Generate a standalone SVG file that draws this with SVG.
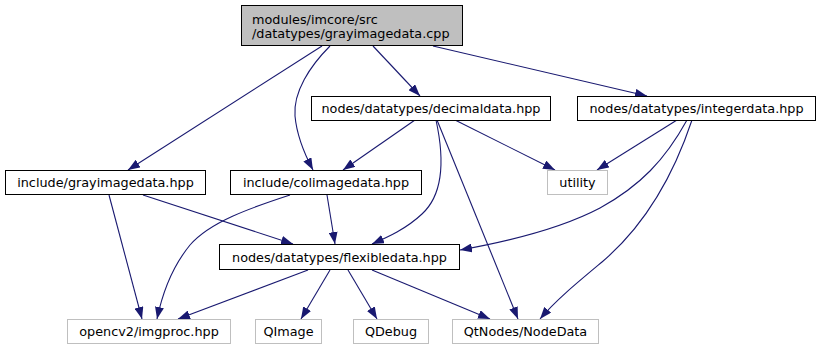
<svg xmlns="http://www.w3.org/2000/svg" width="820" height="351" viewBox="0 0 820 351">
  <style>
    .node rect { fill: #ffffff; stroke: #000000; stroke-width: 1; }
    .node.root rect { fill: #bfbfbf; }
    .node.ext rect { stroke: #bfbfbf; }
    .node text { font-family: "DejaVu Sans", "Liberation Sans", sans-serif; font-size: 12.8px; fill: #000000; text-anchor: middle; }
    .node.root text { text-anchor: start; }
    .edges path { fill: none; stroke: #191970; stroke-width: 1.1; marker-end: url(#arrow); }
  </style>
  <defs>
    <marker id="arrow" viewBox="0 0 12 9" refX="12" refY="4.5" markerWidth="12" markerHeight="9" markerUnits="userSpaceOnUse" orient="auto">
      <path d="M0,0 L12,4.5 L0,9 z" fill="#191970"/>
    </marker>
  </defs>
  <rect width="820" height="351" fill="#ffffff"/>

  <!-- dependency edges -->
  <g id="edges" class="edges">
    <!-- grayimagedata.cpp -->
    <path d="M322,46 L128,170"/>
    <path d="M330,46 C310,66 293,92 295,116 C297,138 305,155 313,170"/>
    <path d="M373,46 L420,96"/>
    <path d="M433,46 L647,96"/>
    <!-- decimaldata.hpp -->
    <path d="M415,120 L343,170"/>
    <path d="M436,120 C443,152 446,192 422,214 C406,229 388,237 372,244"/>
    <path d="M455,120 L555,170"/>
    <path d="M437,120 L518,319"/>
    <!-- integerdata.hpp -->
    <path d="M677,120 L597,170"/>
    <path d="M687,120 C665,160 640,186 600,208 C562,228 505,242 460,250"/>
    <path d="M692,120 C672,180 642,228 602,262 C578,282 556,300 540,319"/>
    <!-- include/grayimagedata.hpp -->
    <path d="M109,195 L142,319"/>
    <path d="M143,195 L293,244"/>
    <!-- include/colimagedata.hpp -->
    <path d="M290,195 C250,208 210,222 190,245 C172,267 162,295 157,319"/>
    <path d="M327,195 L335,244"/>
    <!-- flexibledata.hpp -->
    <path d="M308,270 L178,319"/>
    <path d="M330,270 L301,319"/>
    <path d="M348,270 L377,319"/>
    <path d="M372,270 L490,319"/>
  </g>

  <g id="node-grayimagedata-cpp" class="node root">
    <rect x="241.5" y="5.5" width="221" height="40"/>
    <text x="252" y="23.5">modules/imcore/src</text>
    <text x="252" y="37.5">/datatypes/grayimagedata.cpp</text>
  </g>
  <g id="node-decimaldata" class="node">
    <rect x="311.5" y="96.5" width="239" height="24"/>
    <text x="431" y="113">nodes/datatypes/decimaldata.hpp</text>
  </g>
  <g id="node-integerdata" class="node">
    <rect x="577.5" y="96.5" width="238" height="24"/>
    <text x="696.5" y="113">nodes/datatypes/integerdata.hpp</text>
  </g>
  <g id="node-grayimagedata-hpp" class="node">
    <rect x="5.5" y="170.5" width="200" height="24"/>
    <text x="105.5" y="187">include/grayimagedata.hpp</text>
  </g>
  <g id="node-colimagedata" class="node">
    <rect x="230.5" y="170.5" width="191" height="24"/>
    <text x="326" y="187">include/colimagedata.hpp</text>
  </g>
  <g id="node-utility" class="node ext">
    <rect x="547.5" y="170.5" width="60" height="24"/>
    <text x="577.5" y="187">utility</text>
  </g>
  <g id="node-flexibledata" class="node">
    <rect x="219.5" y="244.5" width="240" height="25"/>
    <text x="339.5" y="261.5">nodes/datatypes/flexibledata.hpp</text>
  </g>
  <g id="node-imgproc" class="node ext">
    <rect x="67.5" y="319.5" width="163" height="24"/>
    <text x="149" y="336">opencv2/imgproc.hpp</text>
  </g>
  <g id="node-qimage" class="node ext">
    <rect x="255.5" y="319.5" width="66" height="24"/>
    <text x="288.5" y="336">QImage</text>
  </g>
  <g id="node-qdebug" class="node ext">
    <rect x="353.5" y="319.5" width="75" height="24"/>
    <text x="391" y="336">QDebug</text>
  </g>
  <g id="node-nodedata" class="node ext">
    <rect x="452.5" y="319.5" width="146" height="24"/>
    <text x="525.5" y="336">QtNodes/NodeData</text>
  </g>
</svg>
